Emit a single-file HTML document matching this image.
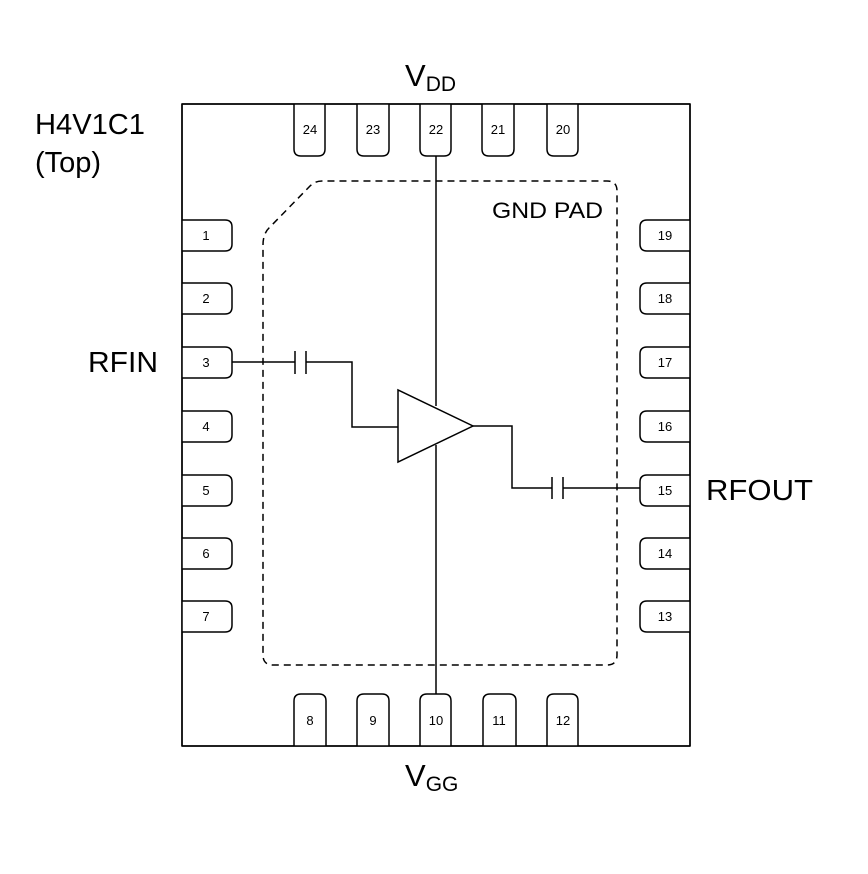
<!DOCTYPE html>
<html><head><meta charset="utf-8"><style>
html,body{margin:0;padding:0;background:#fff;}
svg{display:block;}
text{font-family:"Liberation Sans",Arial,sans-serif;fill:#000;}
.pn{font-size:13px;text-anchor:middle;}
</style></head><body>
<svg width="868" height="874" viewBox="0 0 868 874" xmlns="http://www.w3.org/2000/svg">
<g fill="#fff" stroke="#000" stroke-width="1.5">
<rect x="182" y="104" width="508" height="642" fill="#fff"/>
<path d="M294,104 V149 Q294,156 301,156 H318 Q325,156 325,149 V104"/>
<path d="M357,104 V149 Q357,156 364,156 H382 Q389,156 389,149 V104"/>
<path d="M420,104 V149 Q420,156 427,156 H444 Q451,156 451,149 V104"/>
<path d="M482,104 V149 Q482,156 489,156 H507 Q514,156 514,149 V104"/>
<path d="M547,104 V149 Q547,156 554,156 H571 Q578,156 578,149 V104"/>
<path d="M294,746 V701 Q294,694 301,694 H319 Q326,694 326,701 V746"/>
<path d="M357,746 V701 Q357,694 364,694 H382 Q389,694 389,701 V746"/>
<path d="M420,746 V701 Q420,694 427,694 H444 Q451,694 451,701 V746"/>
<path d="M483,746 V701 Q483,694 490,694 H509 Q516,694 516,701 V746"/>
<path d="M547,746 V701 Q547,694 554,694 H571 Q578,694 578,701 V746"/>
</g>
<g fill="#fff" stroke="#000" stroke-width="1.5">
<path d="M182,220 H225 Q232,220 232,227 V244 Q232,251 225,251 H182"/>
<path d="M182,283 H225 Q232,283 232,290 V307 Q232,314 225,314 H182"/>
<path d="M182,347 H225 Q232,347 232,354 V371 Q232,378 225,378 H182"/>
<path d="M182,411 H225 Q232,411 232,418 V435 Q232,442 225,442 H182"/>
<path d="M182,475 H225 Q232,475 232,482 V499 Q232,506 225,506 H182"/>
<path d="M182,538 H225 Q232,538 232,545 V562 Q232,569 225,569 H182"/>
<path d="M182,601 H225 Q232,601 232,608 V625 Q232,632 225,632 H182"/>
<path d="M690,220 H647 Q640,220 640,227 V244 Q640,251 647,251 H690"/>
<path d="M690,283 H647 Q640,283 640,290 V307 Q640,314 647,314 H690"/>
<path d="M690,347 H647 Q640,347 640,354 V371 Q640,378 647,378 H690"/>
<path d="M690,411 H647 Q640,411 640,418 V435 Q640,442 647,442 H690"/>
<path d="M690,475 H647 Q640,475 640,482 V499 Q640,506 647,506 H690"/>
<path d="M690,538 H647 Q640,538 640,545 V562 Q640,569 647,569 H690"/>
<path d="M690,601 H647 Q640,601 640,608 V625 Q640,632 647,632 H690"/>
</g>
<line x1="182" y1="104" x2="182" y2="746" stroke="#000" stroke-width="1.5"/>
<line x1="690" y1="104" x2="690" y2="746" stroke="#000" stroke-width="1.5"/>
<line x1="182" y1="104" x2="690" y2="104" stroke="#000" stroke-width="1.5"/>
<line x1="182" y1="746" x2="690" y2="746" stroke="#000" stroke-width="1.5"/>
<path d="M263,245 Q263,233 270,227 L310,186 Q315,181 322,181 L607,181 Q617,181 617,191 L617,655 Q617,665 607,665 L273,665 Q263,665 263,655 Z" fill="none" stroke="#000" stroke-width="1.5" stroke-dasharray="7,5"/>
<g fill="none" stroke="#000" stroke-width="1.5">
<polyline points="232,362 295,362"/>
<line x1="295" y1="351" x2="295" y2="374"/>
<line x1="306" y1="351" x2="306" y2="374"/>
<polyline points="306,362 352,362 352,427 398,427"/>
<polyline points="473,426 512,426 512,488 552,488"/>
<line x1="552" y1="477" x2="552" y2="499"/>
<line x1="563" y1="477" x2="563" y2="499"/>
<line x1="563" y1="488" x2="640" y2="488"/>
<polygon points="398,390 398,462 473,426" fill="#fff"/>
</g>
<line x1="436" y1="156" x2="436" y2="406" stroke="#000" stroke-width="1.5"/>
<line x1="436" y1="445" x2="436" y2="694" stroke="#000" stroke-width="1.5"/>
<g>
<text class="pn" x="310" y="134">24</text><text class="pn" x="373" y="134">23</text><text class="pn" x="436" y="134">22</text><text class="pn" x="498" y="134">21</text><text class="pn" x="563" y="134">20</text>
<text class="pn" x="310" y="725">8</text><text class="pn" x="373" y="725">9</text><text class="pn" x="436" y="725">10</text><text class="pn" x="499" y="725">11</text><text class="pn" x="563" y="725">12</text>
<text class="pn" x="206" y="240">1</text><text class="pn" x="206" y="303">2</text><text class="pn" x="206" y="367">3</text><text class="pn" x="206" y="431">4</text><text class="pn" x="206" y="495">5</text><text class="pn" x="206" y="558">6</text><text class="pn" x="206" y="621">7</text>
<text class="pn" x="665" y="240">19</text><text class="pn" x="665" y="303">18</text><text class="pn" x="665" y="367">17</text><text class="pn" x="665" y="431">16</text><text class="pn" x="665" y="495">15</text><text class="pn" x="665" y="558">14</text><text class="pn" x="665" y="621">13</text>
</g>
<text x="492" y="218" font-size="22" textLength="111" lengthAdjust="spacingAndGlyphs">GND PAD</text>
<text x="35" y="134" font-size="29" textLength="110" lengthAdjust="spacingAndGlyphs">H4V1C1</text>
<text x="35" y="172" font-size="29">(Top)</text>
<text x="88" y="372" font-size="29" textLength="70" lengthAdjust="spacingAndGlyphs">RFIN</text>
<text x="706" y="500" font-size="29" textLength="107" lengthAdjust="spacingAndGlyphs">RFOUT</text>
<text x="405" y="86" font-size="31">V<tspan font-size="21" dy="5">DD</tspan></text>
<text x="405" y="786" font-size="31">V<tspan font-size="21" dy="5">GG</tspan></text>
</svg>
</body></html>
